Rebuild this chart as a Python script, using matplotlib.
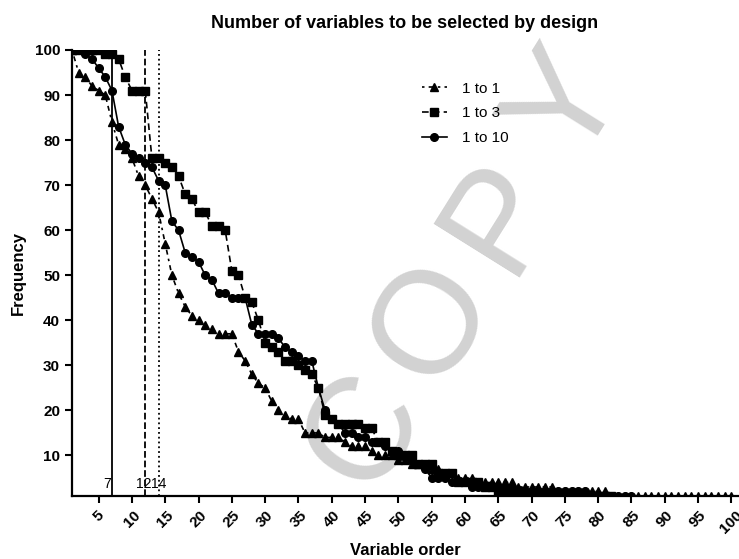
import numpy as np
import matplotlib
matplotlib.use('Agg')
import matplotlib.pyplot as plt

plt.rcParams['font.family'] = ['Liberation Sans', 'DejaVu Sans']

labels = ['1 to 1', '1 to 3', '1 to 10']

# frequency per variable order (index 0 = order 1)
freq_1to1 = [100, 95, 94, 92, 91, 90, 84, 79, 78, 76,
             72, 70, 67, 64, 57, 50, 46, 43, 41, 40,
             39, 38, 37, 37, 37, 33, 31, 28, 26, 25,
             22, 20, 19, 18, 18, 15, 15, 15, 14, 14,
             14, 13, 12, 12, 12, 11, 10, 10, 10, 9,
             9, 8, 8, 8, 7, 7, 6, 6, 5, 5,
             5, 4, 4, 4, 4, 4, 4, 3, 3, 3,
             3, 3, 3, 2, 2, 2, 2, 2, 2, 2,
             2, 1, 1, 1, 1, 1, 1, 1, 1, 1,
             1, 1, 1, 1, 1, 1, 1, 1, 1, 1]
freq_1to3 = [100, 100, 100, 100, 100, 99, 99, 98, 94, 91,
             91, 91, 76, 76, 75, 74, 72, 68, 67, 64,
             64, 61, 61, 60, 51, 50, 45, 44, 40, 35,
             34, 33, 31, 31, 30, 29, 28, 25, 19, 18,
             17, 17, 17, 17, 16, 16, 13, 13, 11, 10,
             10, 10, 8, 8, 8, 6, 6, 6, 4, 4,
             4, 4, 3, 3, 2, 2, 2, 2, 1, 1,
             1, 1, 1, 1, 1, 1, 1, 1, 1, 1,
             1, 1]
freq_1to10 = [100, 100, 99, 98, 96, 94, 91, 83, 79, 77,
              76, 75, 74, 71, 70, 62, 60, 55, 54, 53,
              50, 49, 46, 46, 45, 45, 45, 39, 37, 37,
              37, 36, 34, 33, 32, 31, 31, 25, 20, 18,
              17, 15, 15, 14, 14, 13, 13, 12, 11, 11,
              10, 9, 8, 7, 5, 5, 5, 4, 4, 4,
              3, 3, 3, 3, 3, 2, 2, 2, 2, 2,
              2, 2, 2, 2, 2, 2, 2, 2, 1, 1,
              1, 1, 1, 1, 1]

cutoffs = [7, 12, 14]
cutoff_styles = ['-', '--', ':']

xticks = list(range(5, 101, 5))
yticks = list(range(10, 101, 10))

W, H = 739, 559
fig = plt.figure(figsize=(W / 100, H / 100), dpi=100)
ax = fig.add_axes([0.0974, 0.1127, 0.9013, 0.7979])

# watermark, one letter at a time along a diagonal (pixel positions)
mark = 'COPY'
ang = np.deg2rad(58)
step = 128
cx, cy = 365, 432  # centre of the "C"
for k, ch in enumerate(mark):
    px = cx + k * step * np.cos(ang)
    py = cy - k * step * np.sin(ang)
    ax.text(px / W, 1 - py / H, ch, transform=fig.transFigure,
            fontsize=105, color='#d2d2d2', rotation=58,
            rotation_mode='anchor', ha='center', va='center',
            zorder=0.5, clip_on=False)

series = [(freq_1to1, '^', (0, (1.5, 2.5, 3, 2.5))),
          (freq_1to3, 's', (0, (4, 2.5))),
          (freq_1to10, 'o', '-')]
for (vals, mk, ls), lab in zip(series, labels):
    xs = np.arange(1, len(vals) + 1)
    ax.plot(xs, vals, color='black', linestyle=ls, linewidth=1.2,
            marker=mk, markersize=5.5, label=lab, zorder=2)

for c, ls in zip(cutoffs, cutoff_styles):
    ax.axvline(c, color='black', linestyle=ls, linewidth=1.3)
ax.text(6.3, 2.2, '7', ha='center', va='bottom', fontsize=10)
ax.text(11.8, 2.2, '12', ha='center', va='bottom', fontsize=10)
ax.text(14.0, 2.2, '14', ha='center', va='bottom', fontsize=10)

ax.set_xlim(1, 101)
ax.set_ylim(1, 100)
ax.set_xticks(xticks)
ax.set_yticks(yticks)
ax.set_xticklabels([str(t) for t in xticks], rotation=45, fontweight='bold',
                   fontsize=11)
ax.set_yticklabels([str(t) for t in yticks], fontweight='bold', fontsize=11)
ax.tick_params(direction='out', length=5, width=1.5)

for side in ['top', 'right']:
    ax.spines[side].set_visible(False)
for side in ['left', 'bottom']:
    ax.spines[side].set_linewidth(1.6)

ax.set_xlabel('Variable order', fontweight='bold', fontsize=12, labelpad=5)
ax.set_ylabel('Frequency', fontweight='bold', fontsize=12, labelpad=6)
ax.set_title('Number of variables to be selected by design',
             fontweight='bold', fontsize=13, pad=16)

ax.legend(loc='upper left', bbox_to_anchor=(0.505, 0.96), frameon=False,
          fontsize=11, handlelength=1.6, handletextpad=1.0, labelspacing=0.7)

fig.savefig('out.png', dpi=100)
